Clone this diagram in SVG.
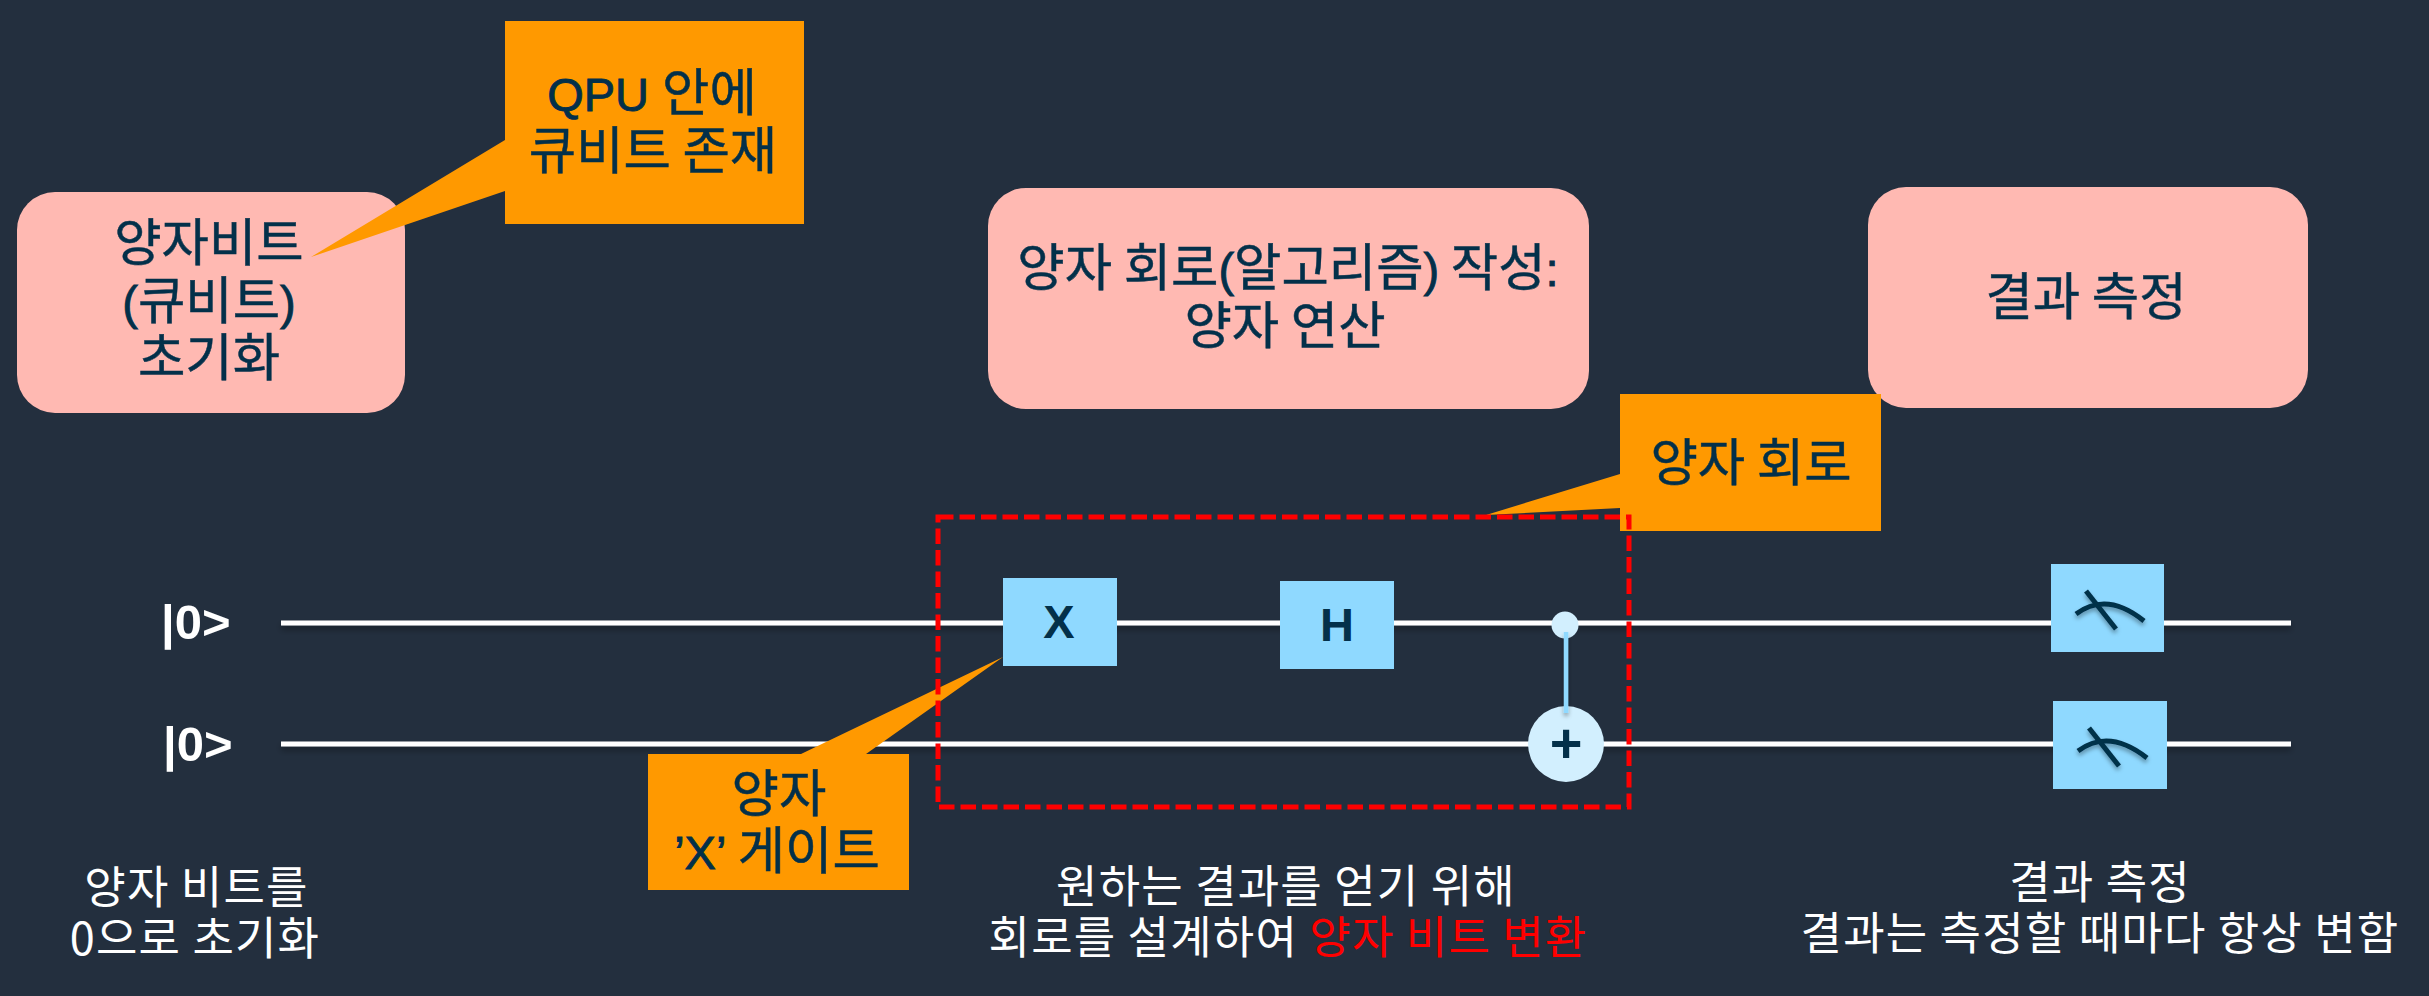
<svg xmlns="http://www.w3.org/2000/svg" width="2429" height="996" viewBox="0 0 2429 996">
<style>
text{font-family:"Noto Sans CJK KR","Liberation Sans",sans-serif;text-anchor:middle}
.l{font-family:"Liberation Sans","Noto Sans CJK KR",sans-serif;font-size:47px;stroke-width:.9}
.k{font-size:51.5px;fill:#03304a;stroke:#03304a;stroke-width:.5}
.w{font-size:45px;letter-spacing:1.2px;fill:#fff}
.g{font-family:"Liberation Sans",sans-serif;font-weight:700;font-size:47px;fill:#03304a}
.q{font-family:"Liberation Sans",sans-serif;font-weight:700;font-size:49px;fill:#fff;text-anchor:start}
.pink{fill:#ffb9b2}
.call{fill:#ff9900}
.gate{fill:#8fd9ff}
.wire{fill:#fff}
.dot{fill:#d2effe}
.meter{fill:none;stroke:#03304a;stroke-width:5}
</style>
<defs>
<filter id="sh" x="-1%" y="-200%" width="102%" height="500%"><feDropShadow dx="0" dy="4" stdDeviation="3" flood-color="#000" flood-opacity=".35"/></filter>
<filter id="sm" x="-100%" y="-30%" width="300%" height="160%"><feDropShadow dx="0" dy="3" stdDeviation="2" flood-color="#000" flood-opacity=".35"/></filter>
</defs>
<rect width="2429" height="996" fill="#232f3e"/>
<g id="step-init"><rect class="pink" x="17" y="192" width="388" height="221" rx="38" ry="38"/>
<text class="k"><tspan x="209" y="261">양자비트</tspan><tspan x="209" y="319"><tspan class="l">(</tspan>큐비트<tspan class="l">)</tspan></tspan><tspan x="209" y="376">초기화</tspan></text></g>
<g id="step-circuit"><rect class="pink" x="988" y="188" width="601" height="221" rx="38" ry="38"/>
<text class="k"><tspan x="1288" y="286">양자 회로<tspan class="l">(</tspan>알고리즘<tspan class="l">)</tspan> 작성<tspan class="l">:</tspan></tspan><tspan x="1285" y="344">양자 연산</tspan></text></g>
<g id="step-measure"><rect class="pink" x="1868" y="187" width="440" height="221" rx="38" ry="38"/>
<text class="k" x="2086" y="315">결과 측정</text></g>
<g id="connectors">
<rect class="wire" x="281" y="620.5" width="2010" height="5" filter="url(#sh)"/>
<rect class="wire" x="281" y="741.5" width="2010" height="5" filter="url(#sh)"/>
</g>
<g id="label-q0"><text class="q" x="161" y="639">|0&gt;</text></g>
<g id="label-q1"><text class="q" x="163" y="761">|0&gt;</text></g>
<g id="gate-x"><rect class="gate" x="1003" y="578" width="114" height="88"/><text class="g" x="1059" y="638">X</text></g>
<g id="gate-h"><rect class="gate" x="1280" y="581" width="114" height="88"/><text class="g" x="1337" y="641">H</text></g>
<g id="gate-cnot"><circle class="dot" cx="1565" cy="625" r="13.5"/><circle class="dot" cx="1566" cy="744" r="38"/>
<rect x="1563.8" y="632" width="4.5" height="81" fill="#8fd9ff" filter="url(#sm)"/>
<text class="g" x="1566" y="762" style="font-size:56px">+</text></g>
<g id="measure-0"><rect class="gate" x="2051" y="564" width="113" height="88"/><g filter="url(#sm)"><path class="meter" d="M2076 614Q2107 591 2144 621"/><path class="meter" d="M2086 591L2116 629"/></g></g>
<g id="measure-1"><rect class="gate" x="2053" y="701" width="114" height="88"/><g filter="url(#sm)"><path class="meter" d="M2078 751Q2109 728 2147 758"/><path class="meter" d="M2089 728L2119 766"/></g></g>
<g id="callout-qpu"><path class="call" d="M505 21H804V224H505V191L311 257L505 140Z"/>
<text class="k"><tspan x="652" y="111"><tspan class="l">QPU </tspan>안에</tspan><tspan x="653" y="169">큐비트 존재</tspan></text></g>
<g id="callout-circuit"><path class="call" d="M1620 394H1881V531H1620V508L1486 515L1620 474Z"/>
<text class="k" x="1751" y="481">양자 회로</text></g>
<g id="callout-x"><path class="call" d="M648 754H801L1003 657L866 754H909V890H648Z"/>
<text class="k"><tspan x="779" y="812">양자</tspan><tspan x="777" y="869"><tspan class="l">’X’ </tspan>게이트</tspan></text></g>
<g id="circuit-frame"><rect x="938" y="517" width="691" height="290" fill="none" stroke="#ff0000" stroke-width="5" stroke-dasharray="15.5 6"/></g>
<g id="note-init"><text class="w"><tspan x="196.5" y="904">양자 비트를</tspan><tspan x="195" y="954.5">0으로 초기화</tspan></text></g>
<g id="note-circuit"><text class="w"><tspan x="1286" y="902.5">원하는 결과를 얻기 위해</tspan><tspan x="1288" y="953.5">회로를 설계하여 <tspan fill="#ff0000">양자 비트 변환</tspan></tspan></text></g>
<g id="note-measure"><text class="w"><tspan x="2100" y="898.5">결과 측정</tspan><tspan x="2100" y="949.5">결과는 측정할 때마다 항상 변함</tspan></text></g>
</svg>
